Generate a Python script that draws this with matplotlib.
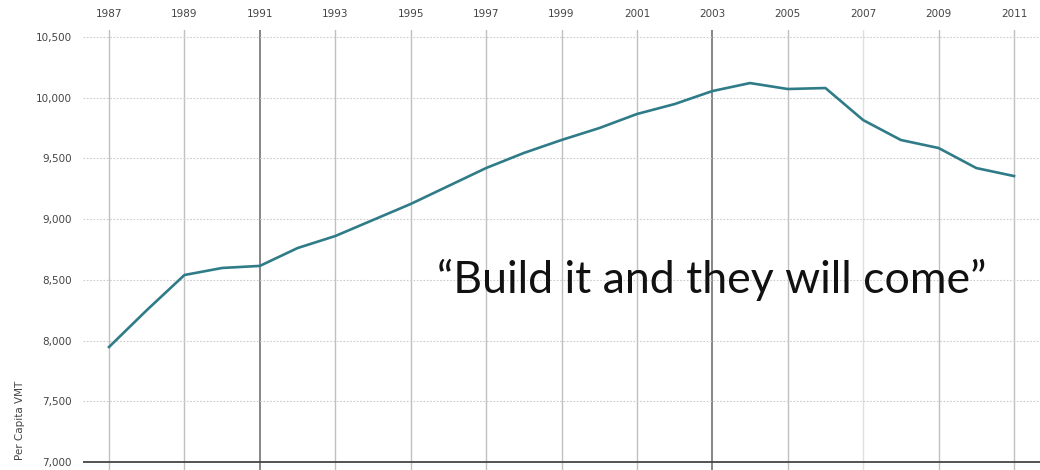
import numpy as np
import matplotlib
matplotlib.use("Agg")
import matplotlib.pyplot as plt

years = np.arange(1987, 2012)
vmt = [7947, 8250, 8540, 8598, 8615, 8762, 8861, 8993, 9125, 9273, 9421, 9545,
       9652, 9750, 9866, 9948, 10055, 10121, 10072, 10080, 9816, 9652, 9586,
       9421, 9355]
grid_years = list(range(1987, 2012, 2))
dark_years = [1991, 2003]
light_years = [2007]
y_ticks = [7000, 7500, 8000, 8500, 9000, 9500, 10000, 10500]
quote = "\u201cBuild it and they will come\u201d"

fig = plt.figure(figsize=(10.4, 4.7), dpi=100)
ax = fig.add_axes([83 / 1040, 0, 1 - 83 / 1040, 440 / 470])
ax.set_xlim(1986.31, 2011.69)
ax.set_ylim(6934, 10558)

for yr in grid_years:
    if yr in dark_years:
        c, lw = "#666666", 1.1
    elif yr in light_years:
        c, lw = "#e0e0e0", 1.0
    else:
        c, lw = "#c0c0c0", 1.0
    ax.axvline(yr, color=c, lw=lw, zorder=1)

for v in y_ticks[1:]:
    ax.axhline(v, color="#cccccc", lw=0.8, ls=(0, (1.5, 1.5)), zorder=1)
ax.axhline(7000, color="#444444", lw=1.3, zorder=2)

ax.plot(years, vmt, color="#2f7c88", lw=1.9, zorder=3, solid_joinstyle="round")

for s in ax.spines.values():
    s.set_visible(False)
ax.set_xticks(grid_years)
ax.set_yticks(y_ticks)
ax.set_yticklabels([f"{v:,}" for v in y_ticks])
ax.xaxis.tick_top()
ax.tick_params(axis="both", length=0, labelsize=7.5, labelcolor="#444444")
ax.tick_params(axis="y", pad=8)
ax.tick_params(axis="x", pad=8)

fig.text(20 / 1040, 1 - 420 / 470, "Per Capita VMT", rotation=90, fontsize=7.5,
         color="#444444", ha="center", va="center")

t = fig.text(437 / 1040, 1 - 293 / 470, quote, fontsize=28,
             family="Lato", color="#111111", ha="left", va="baseline")
fig.canvas.draw()
w = t.get_window_extent().width
t.set_fontsize(28 * 550 / w)

fig.savefig("out.png", dpi=100)
